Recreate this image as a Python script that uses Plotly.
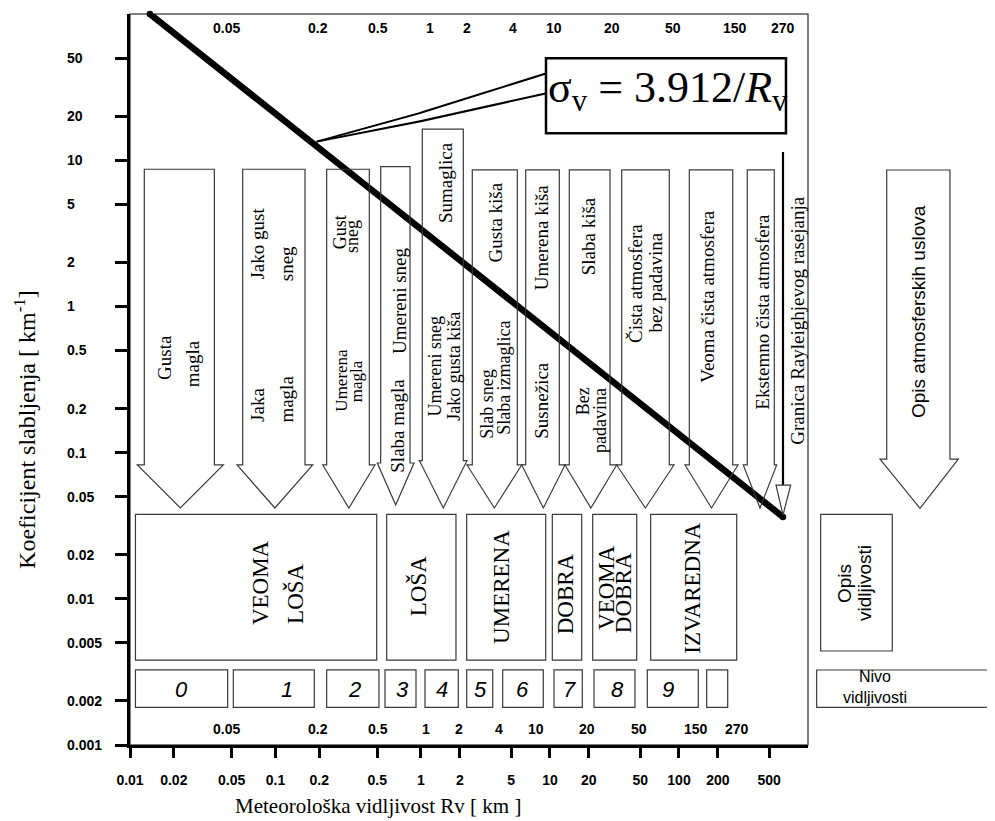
import math
import plotly.graph_objects as go

SERIF = "Liberation Serif, Times New Roman, serif"
SANS = "Liberation Sans, Arial, sans-serif"

# ---------------- axis ticks ----------------
x_ticks_left = [0.01, 0.02, 0.05, 0.1, 0.2, 0.5]
x_ticks_right = [1, 2, 5, 10, 20, 50, 100, 200, 500]
y_ticks = [0.001, 0.002, 0.005, 0.01, 0.02, 0.05, 0.1, 0.2, 0.5, 1, 2, 5, 10, 20, 50]

# ---------------- extinction line sigma_v = 3.912/Rv (as drawn) ----------------
line_rv = [0.0137, 1.0, 640.0]
line_sigma = [100.0, 3.37, 0.0363]

# ---------------- visibility description boxes ----------------
vis_lines = [["VEOMA", "LOŠA"], ["LOŠA"], ["UMERENA"], ["DOBRA"], ["VEOMA", "DOBRA"], ["IZVAREDNA"]]
vis_rv_from = [0.0109, 0.581, 2.26, 10.42, 21.43, 60.3]
vis_rv_to = [0.496, 1.867, 9.26, 17.61, 47.0, 280.0]
vis_sigma_low = 0.00381
vis_sigma_high = 0.0378
vis_label_rv = [[0.0782, 0.1361], [0.954], [4.22], [13.07], [27.5, 36.8], [128.4]]
vis_label_sigma = [[0.0130, 0.0108], [0.0122], [0.0120], [0.0109], [0.0120, 0.0111], [0.0119]]

# ---------------- visibility level boxes ----------------
level_text = ["0", "1", "2", "3", "4", "5", "6", "7", "8", "9", ""]
level_rv_from = [0.0109, 0.0513, 0.2248, 0.5656, 1.074, 2.261, 4.298, 10.74, 21.93, 56.8, 163.9]
level_rv_to = [0.0469, 0.1848, 0.5144, 0.924, 1.946, 3.595, 8.873, 17.8, 45.6, 141.1, 238.5]
level_label_rv = [0.02266, 0.1194, 0.3464, 0.752, 1.463, 2.902, 6.143, 14.29, 33.24, 82.6, 197.7]
level_sigma_low = 0.00181
level_sigma_high = 0.00326
level_label_sigma = 0.00238

# ---------------- atmospheric-condition arrows ----------------
arrow_body_from = [0.01254, 0.0595, 0.2248, 0.5284, 1.0235, 2.498, 6.479, 14.11, 35.96, 120.2, 338.4]
arrow_body_to = [0.0380, 0.1595, 0.4413, 0.8403, 2.128, 5.579, 11.81, 29.18, 84.08, 260.8, 548.0]
arrow_head_from = [0.01122, 0.0544, 0.2111, 0.5009, 0.9734, 2.273, 6.035, 13.07, 32.89, 111.3, 315.0]
arrow_head_to = [0.0438, 0.1802, 0.4829, 0.8952, 2.273, 6.035, 13.07, 32.89, 91.46, 286.7, 572.0]
arrow_sigma_top = [8.67, 8.67, 8.67, 9.03, 16.3, 8.6, 8.6, 8.6, 8.6, 8.6, 8.6]
arrow_sigma_head = [0.0823, 0.0823, 0.0823, 0.0849, 0.0880, 0.0823, 0.0823, 0.0823, 0.0823, 0.0823, 0.0823]
arrow_sigma_tip = [0.0418, 0.0418, 0.0418, 0.0438, 0.0418, 0.0418, 0.0418, 0.0418, 0.0418, 0.0418, 0.0418]

# label lines for arrows: (text, Rv, sigma, font size)
arrow_labels = [
    ("Gusta", 0.0174, 0.444, 19), ("magla", 0.0272, 0.404, 19),
    ("Jako gust", 0.0758, 2.69, 19), ("sneg", 0.1194, 1.965, 19),
    ("Jaka", 0.0758, 0.212, 19), ("magla", 0.1194, 0.233, 19),
    ("Gust", 0.2760, 3.20, 18), ("sneg", 0.3380, 3.01, 18),
    ("Umerena", 0.2851, 0.314, 17), ("magla", 0.3614, 0.306, 17),
    ("Umereni sneg", 0.7174, 1.089, 19), ("Slaba magla", 0.6808, 0.152, 19),
    ("Sumaglica", 1.535, 6.98, 19),
    ("Umereni sneg", 1.284, 0.388, 18), ("Jako gusta kiša", 1.780, 0.388, 18),
    ("Gusta kiša", 3.747, 3.75, 19),
    ("Slab sneg", 3.231, 0.215, 18), ("Slaba izmaglica", 4.345, 0.326, 18),
    ("Umerena kiša", 8.626, 2.96, 19), ("Susnežica", 8.626, 0.229, 19),
    ("Slaba kiša", 19.81, 3.03, 19),
    ("Bez", 18.12, 0.2254, 18), ("padavina", 24.42, 0.1645, 18),
    ("Čista atmosfera", 45.6, 1.423, 19), ("bez padavina", 65.16, 1.457, 19),
    ("Veoma čista atmosfera", 163.9, 1.178, 19),
    ("Ekstemno čista atmosfera", 437.7, 0.9156, 19),
]

# ---------------- Rayleigh limit ----------------
rayleigh_rv = 640.0
rayleigh_sigma = [11.4, 0.0600, 0.0374]
rayleigh_head_rv = [565.0, 734.0]
rayleigh_label = ("Granica Rayleighjevog rasejanja", 817.4, 0.807)

# ---------------- formula callout ----------------
formula_rv = [9.31, 675.0]
formula_sigma = [15.3, 49.8]
callout_from = (0.192, 13.4)
callout_to_rv = 9.43
callout_to_sigma = [39.3, 28.7]
formula_label = (82.15, 30.2)

# ---------------- range labels inside the frame ----------------
top_row_text = ["0.05", "0.2", "0.5", "1", "2", "4", "10", "20", "50", "150", "270"]
top_row_rv = [0.0464, 0.197, 0.509, 1.174, 2.273, 5.17, 10.74, 30.2, 89.9, 271.7, 640.0]
top_row_sigma = 80.2
bottom_row_text = ["0.05", "0.2", "0.5", "1", "2", "4", "10", "20", "50", "150", "270"]
bottom_row_rv = [0.0464, 0.197, 0.509, 1.093, 1.97, 4.02, 7.79, 19.36, 48.97, 135.5, 281.6]
bottom_row_sigma = 0.001286

# =====================================================================
LINE_COL = "#3a3a3a"
shapes = []
annotations = []


def add_data_shape(**kw):
    # the x axis is split at Rv = 1 into two log sub-axes; every shape is
    # drawn on both, each copy being clipped to its own half
    for xr in ("x", "x2"):
        d = dict(kw)
        d["xref"] = xr
        d["yref"] = "y"
        shapes.append(d)


def path_str(pts):
    return "M " + " L ".join(f"{x!r},{y!r}" for x, y in pts) + " Z"


def data_text(text, rv, sig, size, family=SERIF, angle=-90, **kw):
    annotations.append(dict(
        text=text, x=math.log10(rv), y=math.log10(sig),
        xref="x" if rv < 1 else "x2", yref="y", showarrow=False, textangle=angle,
        xanchor="center", yanchor="middle",
        font=dict(family=family, size=size, color="black"), **kw))


# frame
shapes.append(dict(type="rect", xref="paper", yref="paper", x0=0, x1=1, y0=0, y1=1,
                   line=dict(color="#555555", width=1.5), layer="below"))

# arrows
for i in range(len(arrow_body_from)):
    bf, bt = arrow_body_from[i], arrow_body_to[i]
    hf, ht = arrow_head_from[i], arrow_head_to[i]
    top, hs, tp = arrow_sigma_top[i], arrow_sigma_head[i], arrow_sigma_tip[i]
    tip_x = math.sqrt(hf * ht)
    pts = [(bf, top), (bf, hs), (hf, hs), (tip_x, tp), (ht, hs), (bt, hs), (bt, top)]
    add_data_shape(type="path", path=path_str(pts), line=dict(color=LINE_COL, width=1.2))

# visibility description boxes
for a, b in zip(vis_rv_from, vis_rv_to):
    add_data_shape(type="rect", x0=a, x1=b, y0=vis_sigma_low, y1=vis_sigma_high,
                   line=dict(color=LINE_COL, width=1.2))
# level boxes
for a, b in zip(level_rv_from, level_rv_to):
    add_data_shape(type="rect", x0=a, x1=b, y0=level_sigma_low, y1=level_sigma_high,
                   line=dict(color=LINE_COL, width=1.2))

# Rayleigh limit arrow
add_data_shape(type="line", x0=rayleigh_rv, x1=rayleigh_rv, y0=rayleigh_sigma[0], y1=rayleigh_sigma[1],
               line=dict(color="black", width=2.2))
add_data_shape(type="path",
               path=path_str([(rayleigh_head_rv[0], rayleigh_sigma[1]), (rayleigh_rv, rayleigh_sigma[2]),
                              (rayleigh_head_rv[1], rayleigh_sigma[1])]),
               line=dict(color=LINE_COL, width=1.2))

# formula box and callout
add_data_shape(type="rect", x0=formula_rv[0], x1=formula_rv[1], y0=formula_sigma[0], y1=formula_sigma[1],
               line=dict(color="black", width=2.5), fillcolor="white")
for s in callout_to_sigma:
    add_data_shape(type="line", x0=callout_from[0], y0=callout_from[1], x1=callout_to_rv, y1=s,
                   line=dict(color="black", width=2))

# ---------------- texts ----------------
for t, rv, sg, sz in arrow_labels:
    data_text(t, rv, sg, sz)
data_text(rayleigh_label[0], rayleigh_label[1], rayleigh_label[2], 19)

for lines, rvs, sgs in zip(vis_lines, vis_label_rv, vis_label_sigma):
    for t, rv, sg in zip(lines, rvs, sgs):
        data_text(t, rv, sg, 23)

for t, rv in zip(level_text, level_label_rv):
    if t:
        data_text(f"<i>{t}</i>", rv, level_label_sigma, 22, family=SANS, angle=0)

for t, rv in zip(top_row_text, top_row_rv):
    data_text(f"<b>{t}</b>", rv, top_row_sigma, 14, family=SANS, angle=0)
for t, rv in zip(bottom_row_text, bottom_row_rv):
    data_text(f"<b>{t}</b>", rv, bottom_row_sigma, 14, family=SANS, angle=0)

data_text("σ<sub>v</sub> = 3.912/<i>R</i><sub>v</sub>", formula_label[0], formula_label[1], 44, angle=0)

# y tick labels (left aligned as in the original)
for v in y_ticks:
    annotations.append(dict(text=f"<b>{v:g}</b>", x=-0.0959, xref="paper", y=math.log10(v), yref="y",
                            xanchor="left", yanchor="middle", showarrow=False,
                            font=dict(family=SANS, size=14, color="black")))

# axis titles
annotations.append(dict(text="Meteorološka vidljivost Rv [ km ]", x=0.3658, y=-0.0834, xref="paper", yref="paper",
                        showarrow=False, xanchor="center", yanchor="middle",
                        font=dict(family=SERIF, size=21, color="black")))
annotations.append(dict(text="Koeficijent slabljenja [ km<sup>-1</sup>]", x=-0.1550, y=0.4323,
                        xref="paper", yref="paper", textangle=-90, showarrow=False,
                        xanchor="center", yanchor="middle",
                        font=dict(family=SERIF, size=24, color="black")))

# ---------------- key on the right ----------------
key_arrow = [(1.1161, 0.7866), (1.1161, 0.3910), (1.1062, 0.3910), (1.1652, 0.3238),
             (1.2217, 0.3910), (1.2094, 0.3910), (1.2094, 0.7866)]
shapes.append(dict(type="path", xref="paper", yref="paper", path=path_str(key_arrow),
                   line=dict(color=LINE_COL, width=1.2)))
shapes.append(dict(type="rect", xref="paper", yref="paper", x0=1.0187, x1=1.1243, y0=0.1286, y1=0.3156,
                   line=dict(color=LINE_COL, width=1.2)))
shapes.append(dict(type="rect", xref="paper", yref="paper", x0=1.0128, x1=1.30, y0=0.0516, y1=0.1026,
                   line=dict(color=LINE_COL, width=1.2)))
key_texts = [("Opis atmosferskih uslova", 1.1622, 0.5937, 19, -90),
             ("Opis", 1.0531, 0.2202, 19, -90), ("vidljivosti", 1.0826, 0.2216, 19, -90),
             ("Nivo<br>vidljivosti", 1.0990, 0.0787, 16, 0)]
for t, x, y, sz, ang in key_texts:
    annotations.append(dict(text=t, x=x, y=y, xref="paper", yref="paper", textangle=ang, showarrow=False,
                            xanchor="center", yanchor="middle", font=dict(family=SANS, size=sz, color="black")))

# ---------------- figure ----------------
fig = go.Figure()
for xa in ("x", "x2"):
    fig.add_trace(go.Scatter(x=line_rv, y=line_sigma, xaxis=xa, yaxis="y", mode="lines",
                             line=dict(color="black", width=6.5), hoverinfo="skip", showlegend=False))
fig.add_trace(go.Scatter(x=line_rv[:1], y=line_sigma[:1], xaxis="x", yaxis="y", mode="markers",
                         marker=dict(color="black", size=6.5), cliponaxis=False, hoverinfo="skip", showlegend=False))
fig.add_trace(go.Scatter(x=line_rv[-1:], y=line_sigma[-1:], xaxis="x2", yaxis="y", mode="markers",
                         marker=dict(color="black", size=6.5), cliponaxis=False, hoverinfo="skip", showlegend=False))

SPLIT = 0.4292
common_x = dict(type="log", anchor="y", ticks="outside", ticklen=10, tickwidth=2.5, tickcolor="black",
                showline=True, linewidth=3, linecolor="black", showgrid=False, zeroline=False,
                tickfont=dict(family=SANS, size=14, color="black", weight="bold"), ticklabelstandoff=10)
fig.update_layout(
    width=987, height=813,
    margin=dict(l=122, r=187, t=6, b=76, pad=0),
    paper_bgcolor="white", plot_bgcolor="white", showlegend=False,
    xaxis=dict(domain=[0, SPLIT], range=[-2, 0], tickvals=x_ticks_left,
               ticktext=[f"{v:g}" for v in x_ticks_left], **common_x),
    xaxis2=dict(domain=[SPLIT, 1], range=[0, 3], tickvals=x_ticks_right,
                ticktext=[f"{v:g}" for v in x_ticks_right], **common_x),
    yaxis=dict(type="log", range=[-3, 2], anchor="x", tickvals=y_ticks, showticklabels=False,
               ticks="outside", ticklen=12, tickwidth=2.5, tickcolor="black",
               showline=True, linewidth=3, linecolor="black", showgrid=False, zeroline=False),
    shapes=shapes, annotations=annotations,
)
fig.write_html("out.html")
